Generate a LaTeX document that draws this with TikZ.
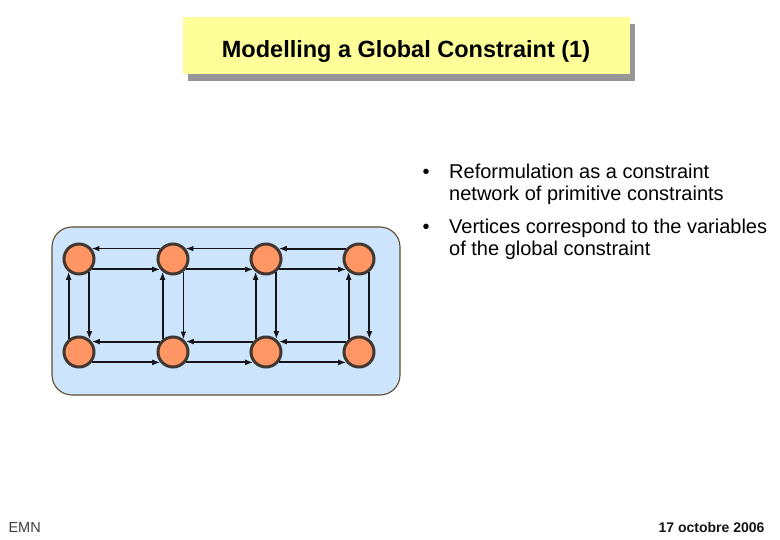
\documentclass[tikz,border=0pt]{standalone}
\usepackage{xcolor}
\usepackage{fontspec}
\setmainfont{Liberation Sans}
\usepackage{tikz}
\usetikzlibrary{arrows.meta, positioning, shadows}
\definecolor{mydark}{RGB}{20,20,25}
\definecolor{myorange}{RGB}{255,150,100}
\definecolor{myrim}{RGB}{65,55,48}
\definecolor{mypanel}{RGB}{204,228,252}
\definecolor{mybrown}{RGB}{95,75,45}
\definecolor{myyellow}{RGB}{255,255,153}
\definecolor{myshadow}{RGB}{150,150,150}
\definecolor{myfoot}{RGB}{60,60,60}
\tikzset{
  var/.style={circle, draw=myrim, fill=myorange, line width=3pt,
    minimum size=30pt, inner sep=0pt},
  panel/.style={rectangle, draw=mybrown, fill=mypanel, line width=1.1pt,
    rounded corners=20pt, minimum width=348pt, minimum height=168pt},
  titlebox/.style={rectangle, fill=myyellow, minimum width=447pt, minimum height=57pt,
    font=\fontsize{23.5}{26}\selectfont\bfseries, text height=24pt, text depth=1pt,
    drop shadow={shadow xshift=5pt, shadow yshift=-7pt, fill=myshadow, opacity=1}},
  bullettext/.style={font=\fontsize{20}{22.5}\selectfont, align=left, inner sep=0pt},
  arrow/.style={-{Latex[length=8pt,width=6pt]}, line width=2pt, color=mydark},
  thinarrow/.style={-{Latex[length=7.5pt,width=5.5pt]}, line width=1pt, color=mydark}
}
\begin{document}
\begin{tikzpicture}[x=1pt, y=-1pt]
  \useasboundingbox (0,0) rectangle (780,540);

  % Title
  \node[titlebox] (title) at (406,46) {Modelling a Global Constraint (1)};

  % Constraint network
  \node[panel] (net) at (226,311) {};

  \node[var] (v11) at (79,259) {};
  \node[var] (v12) at (173,259) {};
  \node[var] (v13) at (266,259) {};
  \node[var] (v14) at (359,259) {};
  \node[var] (v21) at (79,352) {};
  \node[var] (v22) at (173,352) {};
  \node[var] (v23) at (266,352) {};
  \node[var] (v24) at (359,352) {};

  % Upper row
  \draw[thinarrow] (v12.141) -- (v11.39);
  \draw[arrow] (v11.-39) -- (v12.-141);
  \draw[thinarrow] (v13.141) -- (v12.39);
  \draw[arrow] (v12.-39) -- (v13.-141);
  \draw[arrow] (v14.141) -- (v13.39);
  \draw[arrow] (v13.-39) -- (v14.-141);

  % Lower row
  \draw[arrow] (v22.141) -- (v21.39);
  \draw[arrow] (v21.-39) -- (v22.-141);
  \draw[arrow] (v23.141) -- (v22.39);
  \draw[arrow] (v22.-39) -- (v23.-141);
  \draw[arrow] (v24.141) -- (v23.39);
  \draw[arrow] (v23.-39) -- (v24.-141);

  % Columns
  \draw[arrow] (v21.129) -- (v11.-129);
  \draw[arrow] (v11.-51) -- (v21.51);
  \draw[arrow] (v22.129) -- (v12.-129);
  \draw[thinarrow] (v12.-51) -- (v22.51);
  \draw[arrow] (v23.129) -- (v13.-129);
  \draw[arrow] (v13.-51) -- (v23.51);
  \draw[arrow] (v24.129) -- (v14.-129);
  \draw[arrow] (v14.-51) -- (v24.51);

  % Bullets (base = last line)
  \node[bullettext, anchor=base west] (item1) at (449,201)
    {Reformulation as a constraint\\network of primitive constraints};
  \node[bullettext, anchor=base west] (item2) at (449,256)
    {Vertices correspond to the variables\\of the global constraint};
  \node[bullettext, anchor=base] (dot1) at (426,179) {\textbullet};
  \node[bullettext, anchor=base] (dot2) at (426,234) {\textbullet};

  % Footer
  \node[font=\fontsize{14.5}{16}\selectfont, text=myfoot, anchor=base west] (emn) at (5,532) {EMN};
  \node[font=\fontsize{14}{16}\selectfont\bfseries, text=mydark, anchor=base east] (date) at (768,532) {17 octobre 2006};
\end{tikzpicture}
\end{document}
